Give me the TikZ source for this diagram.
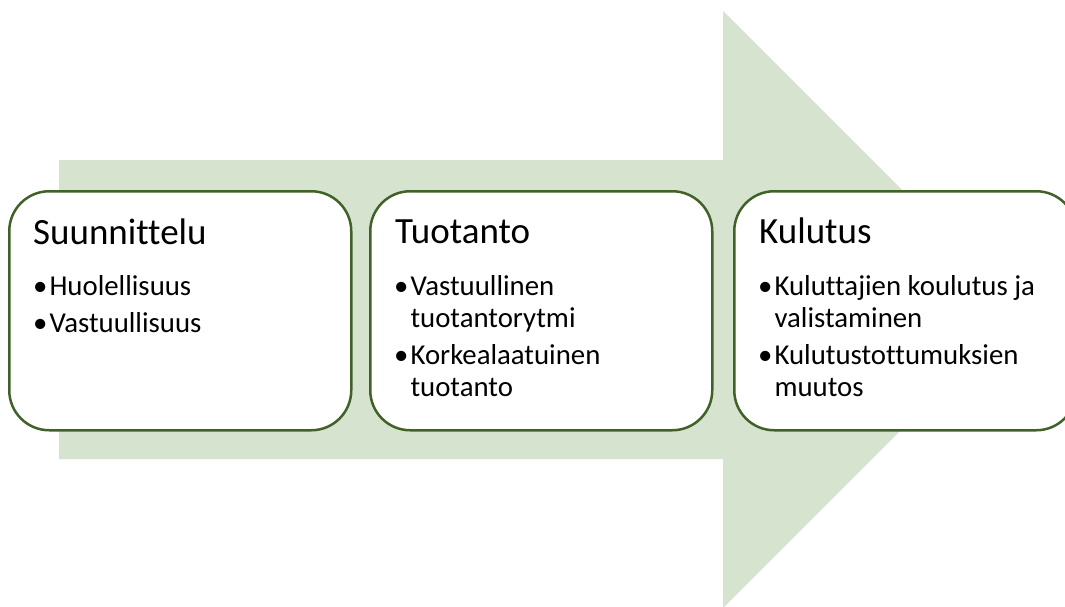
\documentclass[tikz,border=0pt]{standalone}
\usepackage{fontspec}
\setmainfont{Carlito}[Ligatures={NoCommon}]
\definecolor{arrowfill}{RGB}{214,227,207}
\definecolor{boxline}{RGB}{64,98,40}
\newlength\bulw
\newcommand\bul{\textbullet\hspace{2pt}}
\newcommand\bitem[1]{\par\settowidth\bulw{\bul}\hangindent=\bulw\hangafter=1\noindent\bul#1}
\newcommand\itemlist[1]{\parbox[t]{330pt}{\fontsize{28.8}{32}\selectfont\setlength\parskip{5pt}#1}}
\tikzset{
  stagebox/.style={draw=boxline, line width=2.5pt, fill=white, rounded corners=40pt,
    minimum width=342pt, minimum height=239pt, anchor=north west, inner sep=0pt},
  titletext/.style={anchor=base west, inner sep=0pt, font=\fontsize{37}{42}\selectfont},
  itemtext/.style={anchor=base west, inner sep=0pt},
}
\begin{document}
\begin{tikzpicture}[x=1pt,y=-1pt]
\useasboundingbox (0,0) rectangle (1065,606);
\clip (0,0) rectangle (1065,606);
\fill[arrowfill] (59,160) -- (723,160) -- (723,11) -- (1021.5,309.5) -- (723,608) -- (723,459) -- (59,459) -- cycle;
\node[stagebox] (b1) at (8,190) {};
\node[stagebox] (b2) at (369,190) {};
\node[stagebox] (b3) at (733,190) {};
\node[titletext] (t1) at ([xshift=25pt,yshift=-54pt]b1.north west) {Suunnittelu};
\node[titletext] (t2) at ([xshift=26pt,yshift=-53pt]b2.north west) {Tuotanto};
\node[titletext] (t3) at ([xshift=26pt,yshift=-53pt]b3.north west) {Kulutus};
\node[itemtext] (i1) at ([xshift=25pt,yshift=-105pt]b1.north west)
  {\itemlist{\bitem{Huolellisuus}\bitem{Vastuullisuus}}};
\node[itemtext] (i2) at ([xshift=25pt,yshift=-105pt]b2.north west)
  {\itemlist{\bitem{Vastuullinen\\tuotantorytmi}\bitem{Korkealaatuinen\\tuotanto}}};
\node[itemtext] (i3) at ([xshift=25pt,yshift=-105pt]b3.north west)
  {\itemlist{\bitem{Kuluttajien koulutus ja\\valistaminen}\bitem{Kulutustottumuksien\\muutos}}};
\end{tikzpicture}
\end{document}
